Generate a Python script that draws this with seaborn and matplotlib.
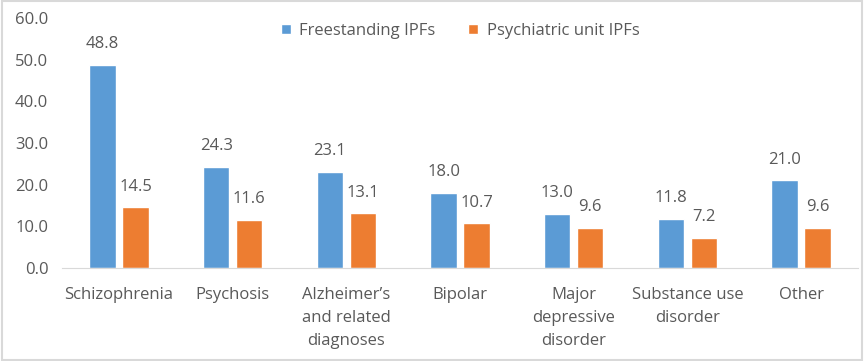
import numpy as np
import pandas as pd
import matplotlib
matplotlib.use("Agg")
import matplotlib.pyplot as plt
import seaborn as sbn
from matplotlib.patches import Rectangle

# Veriler
categories = ["Schizophrenia", "Psychosis", "Alzheimer’s\nand related\ndiagnoses", "Bipolar",
              "Major\ndepressive\ndisorder", "Substance use\ndisorder", "Other"]
freestanding = [48.8, 24.3, 23.1, 18.0, 13.0, 11.8, 21.0]
psych_unit = [14.5, 11.6, 13.1, 10.7, 9.6, 7.2, 9.6]
series_names = ["Freestanding IPFs", "Psychiatric unit IPFs"]
y_ticks = [0, 10, 20, 30, 40, 50, 60]

df = pd.DataFrame({
    "category": categories * 2,
    "value": freestanding + psych_unit,
    "series": [series_names[0]] * len(categories) + [series_names[1]] * len(categories),
})

sbn.set_style("white")
plt.rcParams["font.family"] = ["Open Sans", "DejaVu Sans"]
text_color = "#595959"
fs = 12

fig = plt.figure(figsize=(8.64, 3.61), dpi=100)
ax = fig.add_axes([0.072, 0.258, 0.921, 0.692])

sbn.barplot(data=df, x="category", y="value", hue="series", order=categories,
            hue_order=series_names, palette=["#5B9BD5", "#ED7D31"],
            width=0.58, gap=0.2, ax=ax, saturation=1)

for cont in ax.containers:
    ax.bar_label(cont, fmt="%.1f", padding=9, fontsize=fs, color=text_color)

ax.set_ylim(0, 60)
ax.set_xlim(-0.5, len(categories) - 0.5)
ax.set_yticks(y_ticks)
ax.set_yticklabels([f"{v:.1f}" for v in y_ticks])
ax.set_xlabel("")
ax.set_ylabel("")
ax.tick_params(axis="both", length=0, labelsize=fs, labelcolor=text_color)
ax.tick_params(axis="x", pad=14)
ax.tick_params(axis="y", pad=10)
for lbl in ax.get_xticklabels():
    lbl.set_linespacing(1.55)
for s in ["left", "top", "right"]:
    ax.spines[s].set_visible(False)
ax.spines["bottom"].set_color("#D9D9D9")

leg = ax.legend(loc="upper center", bbox_to_anchor=(0.5, 1.04), ncol=2, frameon=False,
                fontsize=fs, handlelength=0.6, handleheight=0.6, columnspacing=2.0,
                handletextpad=0.5)
for t in leg.get_texts():
    t.set_color(text_color)

fig.patches.append(Rectangle((0.002, 0.002), 0.996, 0.996, transform=fig.transFigure,
                             fill=False, edgecolor="#D9D9D9", linewidth=1.5))

plt.savefig("out.png", dpi=100)
